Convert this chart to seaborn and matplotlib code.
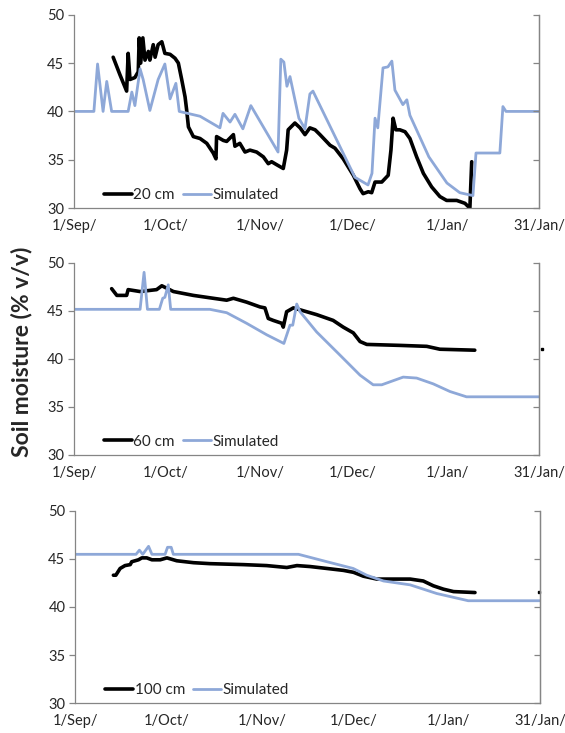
import numpy as np
import pandas as pd
import seaborn as sns
import matplotlib.pyplot as plt

# %% data: days since 1 Sep, soil moisture (% v/v)
sim20_day = [0, 6.5, 7.7, 9.5, 10.7, 12.3, 17.7, 18.9, 19.9, 21.6, 22.6, 24.8, 27.5, 29.7,
             31.4, 33.3, 34.4, 41.2, 47.7, 48.7, 51.0, 52.6, 55.2, 57.8, 66.7, 67.6, 68.6,
             69.6, 70.6, 73.5, 75.5, 77.1, 78.1, 91.8, 96.1, 97.4, 98.4, 99.3, 101.0, 102.6,
             103.9, 104.9, 107.5, 108.8, 109.8, 116.0, 121.9, 126.1, 130.4, 131.4, 139.2,
             140.2, 141.2, 152]
sim20_val = [40, 40, 44.9, 40, 43.1, 40, 40, 42.0, 40.6, 44.4, 43.3, 40.1, 43.3, 44.9,
             41.3, 42.9, 40, 39.5, 38.3, 39.8, 38.9, 39.7, 38.2, 40.6, 35.8, 45.4, 45.1,
             42.6, 43.6, 39.3, 38.2, 41.8, 42.1, 33.2, 32.4, 33.6, 39.3, 38.3, 44.5, 44.6,
             45.2, 42.2, 40.7, 41.2, 39.6, 35.3, 32.6, 31.6, 31.3, 35.7, 35.7,
             40.5, 40.0, 40.0]
obs20_day = [12.8, 15.0, 17.2, 17.7, 18.3, 19.9, 21.0, 21.3, 21.8, 22.5, 23.2, 24.3, 24.8,
             25.9, 26.5, 27.5, 28.7, 29.7, 31.4, 33.0, 34.1, 35.2, 36.3, 36.8, 37.4, 39.0,
             41.2, 43.4, 45.5, 46.4, 46.6, 47.7, 48.8, 49.9, 52.1, 52.6, 54.2, 55.9, 57.5,
             59.7, 61.9, 63.5, 64.6, 66.2, 68.4, 69.5, 70.0, 72.2, 73.9, 75.5, 77.1, 78.8,
             80.4, 83.7, 85.3, 88.0, 91.3, 93.5, 94.5, 96.2, 97.3, 98.4, 100.6, 102.7, 103.6,
             104.3, 105.2, 106.5, 108.2, 109.8, 112.0, 114.2, 116.9, 119.6, 121.8, 125.1,
             127.8, 129.4, 130.0]
obs20_val = [45.6, 43.8, 42.1, 46.0, 43.3, 43.5, 44.1, 47.6, 45.0, 47.6, 45.3, 46.2, 45.3,
             46.9, 45.6, 46.9, 47.2, 46.0, 45.9, 45.5, 45.0, 43.3, 41.5, 40.2, 38.4, 37.4,
             37.2, 36.7, 35.7, 35.1, 37.4, 37.2, 37.0, 36.9, 37.6, 36.4, 36.7, 35.8, 36.0,
             35.8, 35.3, 34.6, 34.8, 34.5, 34.1, 36.0, 38.1, 38.8, 38.3, 37.6, 38.3, 38.1,
             37.6, 36.5, 36.2, 35.1, 33.4, 32.0, 31.5, 31.7, 31.6, 32.7, 32.7, 33.4, 36.0,
             39.3, 38.1, 38.1, 37.9, 37.2, 35.3, 33.6, 32.2, 31.2, 30.8, 30.8,
             30.5, 30.0, 34.8]

sim60_day = [0, 21.6, 22.9, 24.0, 27.9, 29.0, 29.7, 30.8, 31.6, 44.4, 49.9, 56.4, 63.0,
             68.6, 70.6, 71.5, 72.8, 73.9, 79.3, 86.9, 93.5, 97.8, 100.6, 107.6, 112.0,
             117.4, 122.9, 128.3, 152]
sim60_val = [45.15, 45.15, 49.0, 45.15, 45.15, 46.3, 46.4, 47.7, 45.15, 45.15, 44.8, 43.7,
             42.5, 41.6, 43.5, 43.5, 45.7, 44.9, 42.8, 40.4, 38.3, 37.3, 37.3, 38.1, 38.0,
             37.4, 36.6, 36.05, 36.05]
obs60_day = [12.3, 14.0, 17.2, 17.7, 21.6, 27.0, 28.7, 32.5, 39.0, 45.5, 49.9, 52.1, 56.4,
             60.8, 62.4, 63.5, 65.1, 67.9, 68.4, 69.5, 71.7, 73.9, 79.3, 84.7, 88.0, 91.3,
             93.5, 95.7, 106.5, 115.3, 119.6, 131.0]
obs60_val = [47.3, 46.6, 46.6, 47.2, 47.0, 47.2, 47.6, 47.0, 46.6, 46.3, 46.1, 46.3, 45.9,
             45.4, 45.3, 44.2, 44.0, 43.7, 43.3, 44.9, 45.3, 45.1, 44.6, 44.0, 43.3, 42.7,
             41.8, 41.5, 41.4, 41.3, 41.0, 40.9]

sim100_day = [0, 19.9, 21.0, 22.1, 24.0, 25.1, 29.4, 30.2, 31.4, 32.1, 73.0, 82.3, 90.9,
              95.3, 100.8, 109.5, 118.2, 128.5, 152]
sim100_val = [45.47, 45.47, 45.9, 45.47, 46.3, 45.47, 45.47, 46.2, 46.2, 45.47, 45.47,
              44.7, 44.0, 43.3, 42.7, 42.3, 41.4, 40.65, 40.65]
obs100_day = [12.5, 13.3, 14.7, 16.3, 18.0, 18.5, 20.7, 21.8, 23.4, 25.1, 27.8, 30.0, 33.2,
              38.7, 44.1, 55.0, 62.6, 69.2, 72.5, 76.8, 82.3, 87.7, 91.0, 94.2, 98.6,
              104.0, 109.5, 113.8, 117.1, 120.4, 123.7, 130.7]
obs100_val = [43.3, 43.3, 44.0, 44.3, 44.4, 44.7, 44.9, 45.1, 45.1, 44.9, 44.9, 45.1, 44.8,
              44.6, 44.5, 44.4, 44.3, 44.1, 44.3, 44.2, 44.0, 43.8, 43.6, 43.2, 42.9,
              42.9, 42.9, 42.7, 42.2, 41.85, 41.6, 41.5]

# lone late readings at the right edge
stray_day = [None, 153.0, 151.6]
stray_val = [None, 41.0, 41.6]

depths = ["20 cm", "60 cm", "100 cm"]
tick_days = [0, 30, 61, 91, 122, 152]
tick_labels = ["1/Sep/", "1/Oct/", "1/Nov/", "1/Dec/", "1/Jan/", "31/Jan/"]
y_ticks = [30, 35, 40, 45, 50]

obs_series = [(obs20_day, obs20_val), (obs60_day, obs60_val), (obs100_day, obs100_val)]
sim_series = [(sim20_day, sim20_val), (sim60_day, sim60_val), (sim100_day, sim100_val)]

# %% style
sns.set_style("white")
plt.rcParams['font.family'] = ['Lato', 'DejaVu Sans']

blue = '#8EA8D8'
axis_grey = '#858585'

fig = plt.figure(figsize=(5.65, 7.33), dpi=100)
boxes = [[0.131, 0.716, 0.823, 0.264],
         [0.131, 0.3793, 0.823, 0.2623],
         [0.133, 0.0405, 0.823, 0.2628]]

for i, box in enumerate(boxes):
    ax = fig.add_axes(box)
    od, ov = obs_series[i]
    sd, sv = sim_series[i]
    obs = pd.DataFrame({"day": od, "sm": ov})
    sim = pd.DataFrame({"day": sd, "sm": sv})
    sns.lineplot(data=obs, x="day", y="sm", ax=ax, color='black', lw=2.6,
                 label=depths[i], sort=False, estimator=None)
    sns.lineplot(data=sim, x="day", y="sm", ax=ax, color=blue, lw=2.0,
                 label="Simulated", sort=False, estimator=None)
    if stray_day[i] is not None:
        ax.plot([stray_day[i]], [stray_val[i]], 's', color='black', ms=1.5,
                clip_on=False)

    ax.set_xlim(0, 152)
    ax.set_ylim(30, 50)
    ax.set_xticks(tick_days)
    ax.set_xticklabels(tick_labels)
    ax.set_yticks(y_ticks)
    ax.set_xlabel("")
    ax.set_ylabel("")
    ax.tick_params(axis='both', direction='out', length=4, width=0.9,
                   color=axis_grey, labelsize=10.5, pad=3)
    ax.tick_params(axis='x', pad=4)
    for side in ['left', 'bottom', 'right']:
        ax.spines[side].set_visible(True)
        ax.spines[side].set_color(axis_grey)
        ax.spines[side].set_linewidth(0.9)
    ax.spines['top'].set_visible(False)

    # right axis: inward ticks, no labels
    ax2 = ax.twinx()
    ax2.set_ylim(30, 50)
    ax2.set_yticks(y_ticks)
    ax2.tick_params(axis='y', direction='in', length=4, width=0.9,
                    color=axis_grey, labelright=False)
    for side in ['left', 'bottom', 'top']:
        ax2.spines[side].set_visible(False)
    ax2.spines['right'].set_color(axis_grey)
    ax2.spines['right'].set_linewidth(0.9)

    ax.legend(loc='lower left', bbox_to_anchor=(0.045, -0.015), ncol=2, frameon=False,
              fontsize=11, handlelength=1.8, handletextpad=0.12, columnspacing=0.55,
              borderaxespad=0.2)

fig.text(0.038, 0.52, "Soil moisture (% v/v)", rotation=90, fontsize=16.5,
         fontweight='bold', ha='center', va='center')

fig.savefig("out.png", dpi=100)
